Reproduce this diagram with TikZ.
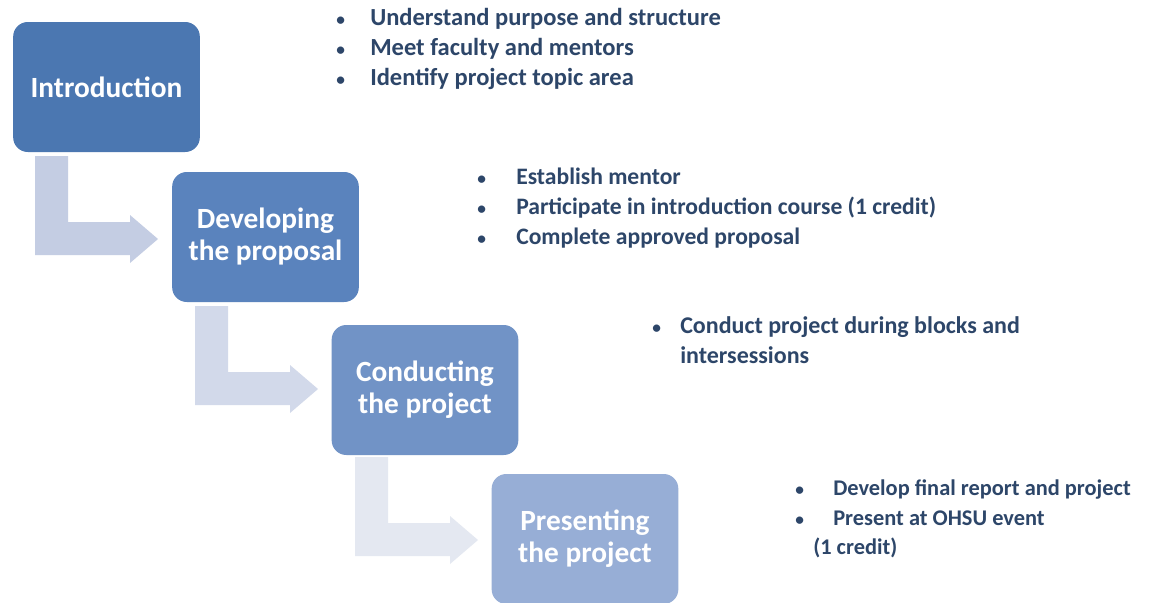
\documentclass[tikz,border=0pt]{standalone}
\usepackage{fontspec}
\setmainfont{Carlito}
\definecolor{boxA}{HTML}{4B77B1}
\definecolor{boxB}{HTML}{5A83BD}
\definecolor{boxC}{HTML}{7193C6}
\definecolor{boxD}{HTML}{97AED6}
\definecolor{arrA}{HTML}{C4CDE3}
\definecolor{arrB}{HTML}{D2D9EA}
\definecolor{arrC}{HTML}{E4E8F1}
\definecolor{txt}{HTML}{2D4669}
\tikzset{
  stage/.style={rounded corners=11pt, minimum width=140pt, minimum height=97.5pt, inner sep=0pt,
    text=white, font=\bfseries\fontsize{22}{24}\selectfont, align=center},
  bul/.style={anchor=base west, inner sep=0pt, text=txt, font=\bfseries\fontsize{#1}{20}\selectfont},
  dot/.style={anchor=base west, inner sep=0pt, text=txt, font=\bfseries\fontsize{13}{20}\selectfont},
}
\newcommand{\bentarrow}[3]{%
  \fill[#3, shift={(#1,#2)}] (0,0) -- (33,0) -- (33,66) -- (95,66) -- (95,59) -- (123,83) -- (95,107) -- (95,99) -- (0,99) -- cycle;}
\begin{document}
\begin{tikzpicture}[x=0.75pt,y=-0.75pt]
\useasboundingbox (0,0) rectangle (1160,603);
\fill[white] (0,0) rectangle (1160,603);
% arrows
\bentarrow{35}{156}{arrA}
\bentarrow{195}{306}{arrB}
\bentarrow{355}{457}{arrC}
% stages
\node[stage, fill=boxA] (intro) at (106.5,87) {Introduction};
\node[stage, fill=boxB] (dev) at (265.5,237) {Developing\\the proposal};
\node[stage, fill=boxC] (cond) at (425,390) {Conducting\\the project};
\node[stage, fill=boxD] (pres) at (585,539) {Presenting\\the project};
% bullets group 1
\node[dot] (b1a) at (336,26) {•};
\node[bul=18.4] (t1a) at (370,26) {Understand purpose and structure};
\node[dot] (b1b) at (336,55) {•};
\node[bul=18.4] (t1b) at (370,55) {Meet faculty and mentors};
\node[dot] (b1c) at (336,85) {•};
\node[bul=18.4] (t1c) at (370,85) {Identify project topic area};
% group 2
\node[dot] (b2a) at (477,184) {•};
\node[bul=17.7] (t2a) at (516,184) {Establish mentor};
\node[dot] (b2b) at (477,214) {•};
\node[bul=17.7] (t2b) at (516,214) {Participate in introduction course (1 credit)};
\node[dot] (b2c) at (477,244) {•};
\node[bul=17.7] (t2c) at (516,244) {Complete approved proposal};
% group 3
\node[dot] (b3a) at (652,333) {•};
\node[bul=18] (t3a) at (680,333) {Conduct project during blocks and};
\node[bul=18] (t3b) at (680,363) {intersessions};
% group 4
\node[dot] (b4a) at (795,495) {•};
\node[bul=16.8] (t4a) at (833,495) {Develop final report and project};
\node[dot] (b4b) at (795,525) {•};
\node[bul=16.8] (t4b) at (833,525) {Present at OHSU event};
\node[bul=16.8] (t4c) at (813,554) {(1 credit)};
\end{tikzpicture}
\end{document}
